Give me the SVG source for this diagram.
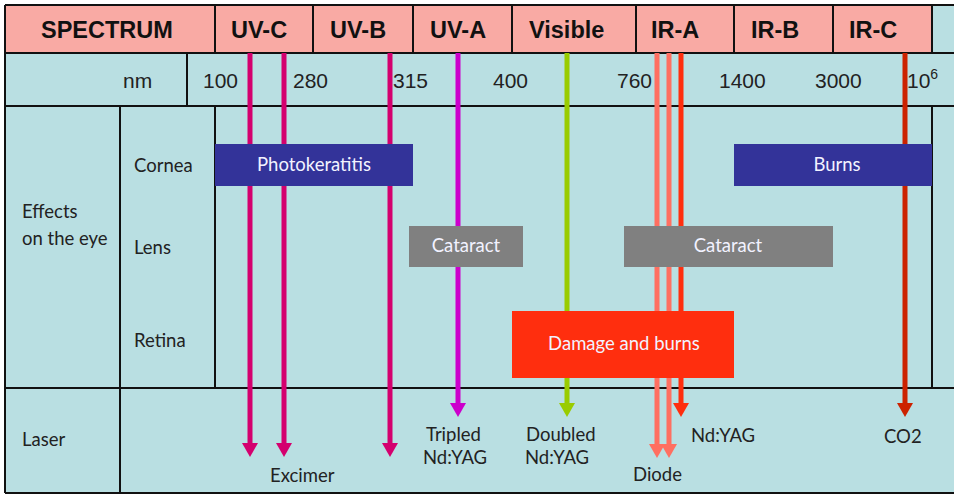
<svg xmlns="http://www.w3.org/2000/svg" width="954" height="495" viewBox="0 0 954 495">
<style>
.bg{fill:#B9DFE2}
.pk{fill:#F9AAA4}
.grid{stroke:#111;stroke-width:2;fill:none}
.hd{font-family:"Liberation Sans",Arial,sans-serif;font-weight:bold;font-size:23.5px;fill:#111}
.num{font-family:"Liberation Sans",Arial,sans-serif;font-size:21px;fill:#222}
.lb{font-family:Lato,"Noto Sans",sans-serif;font-size:18.5px;fill:#222}
.bx{font-family:Lato,"Noto Sans",sans-serif;font-size:18.5px;fill:#F2F2FF;text-anchor:middle}
.ln{stroke-width:5;fill:none}
marker{overflow:visible}
</style>
<defs>
<marker id="aUV" markerUnits="userSpaceOnUse" markerWidth="16" markerHeight="15" refX="0" refY="0" orient="0"><path d="M-8,-2 L8,-2 L0,12 Z" fill="#D4006E"/></marker>
<marker id="aUVA" markerUnits="userSpaceOnUse" markerWidth="16" markerHeight="15" refX="0" refY="0" orient="0"><path d="M-8,-2 L8,-2 L0,12 Z" fill="#CC00CC"/></marker>
<marker id="aVis" markerUnits="userSpaceOnUse" markerWidth="16" markerHeight="15" refX="0" refY="0" orient="0"><path d="M-8,-2 L8,-2 L0,12 Z" fill="#99CC00"/></marker>
<marker id="aDi" markerUnits="userSpaceOnUse" markerWidth="16" markerHeight="15" refX="0" refY="0" orient="0"><path d="M-8,-2 L8,-2 L0,12 Z" fill="#FF6F61"/></marker>
<marker id="aNd" markerUnits="userSpaceOnUse" markerWidth="16" markerHeight="15" refX="0" refY="0" orient="0"><path d="M-8,-2 L8,-2 L0,12 Z" fill="#FF2E0E"/></marker>
<marker id="aCO" markerUnits="userSpaceOnUse" markerWidth="16" markerHeight="15" refX="0" refY="0" orient="0"><path d="M-8,-2 L8,-2 L0,12 Z" fill="#CC2200"/></marker>
</defs>
<rect x="0" y="0" width="954" height="495" fill="#FFFFFF"/>
<g id="table">
<rect class="bg" x="5" y="5" width="949" height="488"/>
<rect class="pk" x="5" y="5" width="927" height="48"/>
<path class="grid" d="M5,5 H954 M5,53 H954 M5,106 H954 M5,388 H954 M5,493 H954 M5,5 V493 M215,5 V53 M313,5 V53 M413,5 V53 M512,5 V53 M636,5 V53 M734,5 V53 M833,5 V53 M932,5 V53 M187,53 V106 M120,106 V493 M215,106 V388 M932,106 V388"/>
<text class="hd" x="41" y="38">SPECTRUM</text>
<text class="hd" x="231" y="38">UV-C</text>
<text class="hd" x="330" y="38">UV-B</text>
<text class="hd" x="430" y="38">UV-A</text>
<text class="hd" x="529" y="38">Visible</text>
<text class="hd" x="651" y="38">IR-A</text>
<text class="hd" x="751" y="38">IR-B</text>
<text class="hd" x="849" y="38">IR-C</text>
<text class="num" x="123" y="88">nm</text>
<text class="num" x="203" y="88">100</text>
<text class="num" x="293" y="88">280</text>
<text class="num" x="393" y="88">315</text>
<text class="num" x="493" y="88">400</text>
<text class="num" x="617" y="88">760</text>
<text class="num" x="719" y="88">1400</text>
<text class="num" x="815" y="88">3000</text>
<text class="num" x="907" y="88">10<tspan font-size="14" dy="-9">6</tspan></text>
<text class="lb" x="22" y="218">Effects</text>
<text class="lb" x="22" y="245">on the eye</text>
<text class="lb" x="134" y="172">Cornea</text>
<text class="lb" x="134" y="254">Lens</text>
<text class="lb" x="134" y="347">Retina</text>
<text class="lb" x="22" y="446">Laser</text>
</g>
<g id="connectors">
<line class="ln" x1="250" y1="53" x2="250" y2="445" stroke="#D4006E" marker-end="url(#aUV)"/>
<line class="ln" x1="284" y1="53" x2="284" y2="445" stroke="#D4006E" marker-end="url(#aUV)"/>
<line class="ln" x1="390" y1="53" x2="390" y2="445" stroke="#D4006E" marker-end="url(#aUV)"/>
<line class="ln" x1="458" y1="53" x2="458" y2="405" stroke="#CC00CC" marker-end="url(#aUVA)"/>
<line class="ln" x1="567" y1="53" x2="567" y2="405" stroke="#99CC00" marker-end="url(#aVis)"/>
<line class="ln" x1="657" y1="53" x2="657" y2="446" stroke="#FF6F61" marker-end="url(#aDi)"/>
<line class="ln" x1="669" y1="53" x2="669" y2="446" stroke="#FF6F61" marker-end="url(#aDi)"/>
<line class="ln" x1="681" y1="53" x2="681" y2="405" stroke="#FF2E0E" marker-end="url(#aNd)"/>
<line class="ln" x1="905" y1="53" x2="905" y2="405" stroke="#CC2200" marker-end="url(#aCO)"/>
</g>
<g id="photokeratitis"><rect x="215" y="144" width="198" height="42" fill="#333399"/><text class="bx" x="314" y="171">Photokeratitis</text></g>
<g id="burns"><rect x="734" y="144" width="198" height="42" fill="#333399"/><text class="bx" x="837" y="171">Burns</text></g>
<g id="cataract1"><rect x="409" y="226" width="114" height="41" fill="#808080"/><text class="bx" x="466" y="252">Cataract</text></g>
<g id="cataract2"><rect x="624" y="226" width="209" height="41" fill="#808080"/><text class="bx" x="728" y="252">Cataract</text></g>
<g id="damage"><rect x="512" y="311" width="222" height="67" fill="#FF2E0E"/><text class="bx" x="624" y="350">Damage and burns</text></g>
<g id="laser-labels">
<text class="lb" x="270" y="482">Excimer</text>
<text class="lb" x="426" y="441">Tripled</text>
<text class="lb" x="423" y="464">Nd:YAG</text>
<text class="lb" x="526" y="441">Doubled</text>
<text class="lb" x="525" y="464">Nd:YAG</text>
<text class="lb" x="633" y="481">Diode</text>
<text class="lb" x="691" y="442">Nd:YAG</text>
<text class="lb" x="884" y="443">CO2</text>
</g>
</svg>
